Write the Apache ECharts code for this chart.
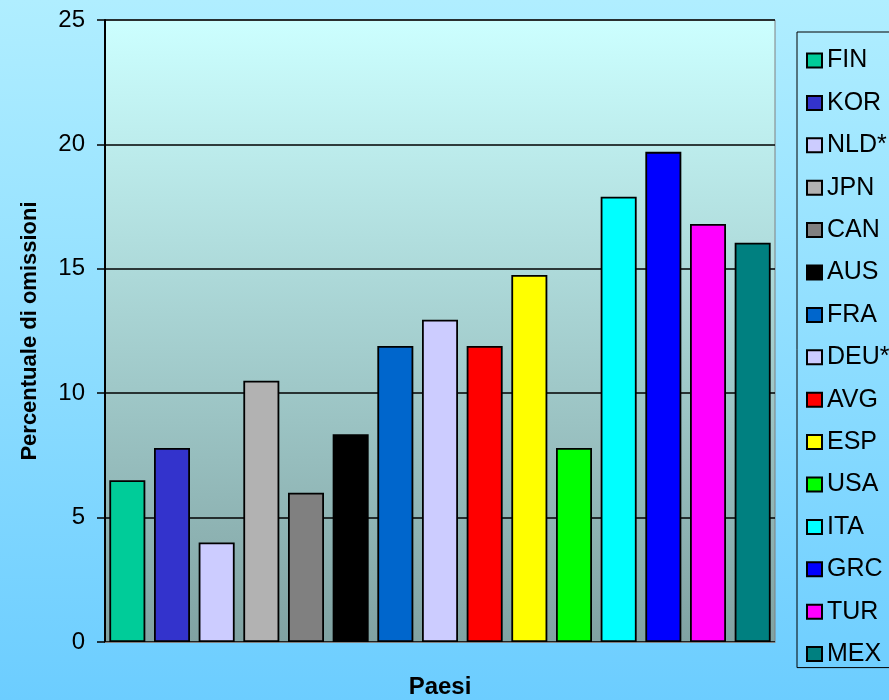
<!DOCTYPE html>
<html>
<head>
<meta charset="utf-8">
<script src="https://cdn.jsdelivr.net/npm/echarts@6/dist/echarts.min.js"></script>
<style>html,body{margin:0;padding:0;}#c{width:889px;height:700px;}</style>
</head>
<body>
<div id="c"></div>
<script>
var countries = ['FIN','KOR','NLD*','JPN','CAN','AUS','FRA','DEU*','AVG','ESP','USA','ITA','GRC','TUR','MEX'];
var values = [6.5, 7.8, 4.0, 10.5, 6.0, 8.35, 11.9, 12.95, 11.9, 14.75, 7.8, 17.9, 19.7, 16.8, 16.05];
var colors = ['#00cc99','#3333cc','#ccccff','#b2b2b2','#808080','#000000','#0066cc','#ccccff','#ff0000','#ffff00','#00ff00','#00ffff','#0000ff','#ff00ff','#008080'];
var yTicks = [0, 5, 10, 15, 20, 25];

var series = countries.map(function (name, i) {
  var d = countries.map(function (_, j) { return j === i ? values[i] : null; });
  return {
    name: name,
    type: 'bar',
    data: d,
    barWidth: 36,
    barGap: '-100%',
    itemStyle: { color: colors[i], borderColor: '#000', borderWidth: 1.8 }
  };
});

var chart = echarts.init(document.getElementById('c'));
chart.setOption({
  backgroundColor: new echarts.graphic.LinearGradient(0, 0, 0, 1, [
    { offset: 0, color: '#b0eeff' },
    { offset: 1, color: '#6ccdff' }
  ]),
  animation: false,
  grid: {
    left: 105, top: 20, width: 670, height: 622,
    outerBoundsMode: 'none',
    containLabel: false,
    show: true,
    borderColor: '#808080', borderWidth: 1,
    backgroundColor: new echarts.graphic.LinearGradient(0, 0, 0, 1, [
      { offset: 0, color: '#ccffff' },
      { offset: 1, color: '#80a2a2' }
    ])
  },
  legend: {
    orient: 'vertical',
    left: 797, top: 32,
    data: countries,
    itemWidth: 15, itemHeight: 14,
    itemGap: 17.4,
    itemTextGap: 8,
    icon: 'rect',
    borderColor: '#000', borderWidth: 1,
    padding: [16, 20, 1, 9],
    textStyle: { fontFamily: 'Liberation Sans, Arial', fontSize: 25, color: '#000', lineHeight: 25 }
  },
  xAxis: {
    type: 'category',
    data: countries,
    name: 'Paesi',
    nameLocation: 'middle',
    nameGap: 33,
    nameTextStyle: { fontFamily: 'Liberation Sans, Arial', fontSize: 24, fontWeight: 'bold', color: '#000' },
    axisLine: { lineStyle: { color: '#808080', width: 1 } },
    axisTick: { show: false },
    axisLabel: { show: false }
  },
  yAxis: {
    type: 'value',
    min: yTicks[0], max: yTicks[yTicks.length - 1], interval: 5,
    name: 'Percentuale di omissioni',
    nameLocation: 'middle',
    nameGap: 64,
    nameTextStyle: { fontFamily: 'Liberation Sans, Arial', fontSize: 22, fontWeight: 'bold', color: '#000' },
    axisLine: { show: true, lineStyle: { color: '#000', width: 2 } },
    axisTick: { show: true, length: 8, lineStyle: { color: '#000', width: 1.5 } },
    axisLabel: { fontFamily: 'Liberation Sans, Arial', fontSize: 24, color: '#000', margin: 20 },
    splitLine: { show: true, lineStyle: { color: '#000', width: 1.5 } }
  },
  series: series
});
</script>
</body>
</html>
